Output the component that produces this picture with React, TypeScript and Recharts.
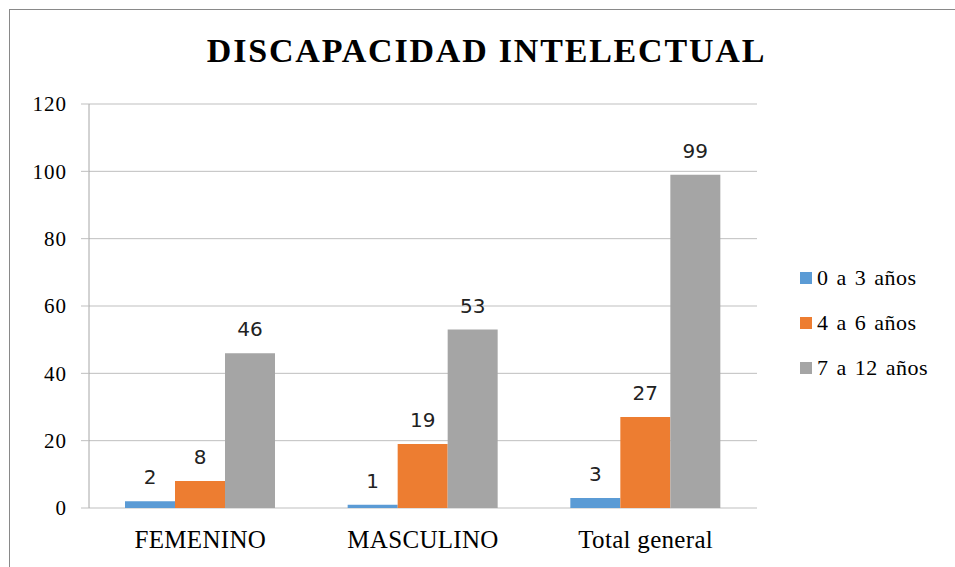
import { BarChart, Bar, XAxis, YAxis, CartesianGrid, Legend, LabelList } from 'recharts';

/* ------------------------------------------------------------------ */
/*  Data                                                               */
/* ------------------------------------------------------------------ */
const categories = ['FEMENINO', 'MASCULINO', 'Total general'];
const edad0a3 = [2, 1, 3];
const edad4a6 = [8, 19, 27];
const edad7a12 = [46, 53, 99];
const yTicks = [0, 20, 40, 60, 80, 100, 120];
const edgeTicks = [0, 1, 2, 3];

const series = [
  { key: 'a', name: '0 a 3 años', values: edad0a3, color: '#5b9bd5' },
  { key: 'b', name: '4 a 6 años', values: edad4a6, color: '#ed7d31' },
  { key: 'c', name: '7 a 12 años', values: edad7a12, color: '#a5a5a5' },
];

const data = categories.map((cat, i) => {
  const row: Record<string, string | number> = { cat };
  series.forEach((s) => {
    row[s.key] = s.values[i];
  });
  return row;
});

const SERIF = '"Liberation Serif", "Times New Roman", serif';
const AXIS = '#a6a6a6';
const GRID = '#bfbfbf';

/* ------------------------------------------------------------------ */
/*  Legend                                                             */
/* ------------------------------------------------------------------ */
function LegendBox({ payload }: any) {
  return (
    <div>
      {(payload || []).map((p: any) => (
        <div
          key={p.value}
          style={{ display: 'flex', alignItems: 'center', height: 45 }}
        >
          <span
            style={{
              display: 'inline-block',
              width: 12,
              height: 12,
              background: p.color,
              marginRight: 5,
            }}
          />
          <span
            style={{
              fontFamily: SERIF,
              fontSize: 22,
              letterSpacing: 0.5,
              wordSpacing: 2,
              color: '#000',
            }}
          >
            {p.value}
          </span>
        </div>
      ))}
    </div>
  );
}

export default function App() {
  return (
    <div
      style={{
        position: 'fixed',
        left: 9,
        top: 9,
        right: 0,
        bottom: 0,
        borderTop: '1px solid #898989',
        borderLeft: '1px solid #898989',
        overflow: 'hidden',
        background: '#fff',
      }}
    >
      <div
        style={{
          position: 'absolute',
          top: 24,
          left: 8,
          width: 937,
          textAlign: 'center',
          fontFamily: SERIF,
          fontWeight: 'bold',
          fontSize: 34,
          lineHeight: '34px',
          letterSpacing: 1.8,
          color: '#000',
        }}
      >
        DISCAPACIDAD INTELECTUAL
      </div>
      <BarChart
        width={945}
        height={557}
        data={data}
        margin={{ top: 94, right: 198, left: 0, bottom: 19 }}
        barGap={0}
      >
        <CartesianGrid vertical={false} stroke={GRID} />
        <XAxis
          xAxisId="edge"
          type="number"
          domain={[0, 3]}
          ticks={edgeTicks}
          allowDataOverflow
          height={0}
          tick={false}
          tickSize={8}
          axisLine={{ stroke: AXIS }}
          tickLine={{ stroke: AXIS }}
        />
        <XAxis
          dataKey="cat"
          height={40}
          axisLine={false}
          tickLine={false}
          tickSize={0}
          tickMargin={22}
          tick={{ fontFamily: SERIF, fontSize: 25, fill: '#000', letterSpacing: 0.3 }}
        />
        <YAxis
          width={79}
          domain={[0, 120]}
          ticks={yTicks}
          tickSize={8}
          tickMargin={14}
          axisLine={{ stroke: AXIS }}
          tickLine={{ stroke: GRID }}
          tick={{ fontFamily: SERIF, fontSize: 21, fill: '#000', letterSpacing: 1 }}
        />
        <Legend
          layout="vertical"
          align="center"
          verticalAlign="middle"
          wrapperStyle={{ left: 790, top: 245, width: 150 }}
          content={<LegendBox />}
        />
        {series.map((s) => (
          <Bar
            key={s.key}
            dataKey={s.key}
            name={s.name}
            fill={s.color}
            barSize={50}
            isAnimationActive={false}
          >
            <LabelList
              dataKey={s.key}
              position="top"
              offset={17}
              style={{ fontFamily: '"DejaVu Sans", sans-serif', fontSize: 20, fill: '#222' }}
            />
          </Bar>
        ))}
      </BarChart>
    </div>
  );
}
